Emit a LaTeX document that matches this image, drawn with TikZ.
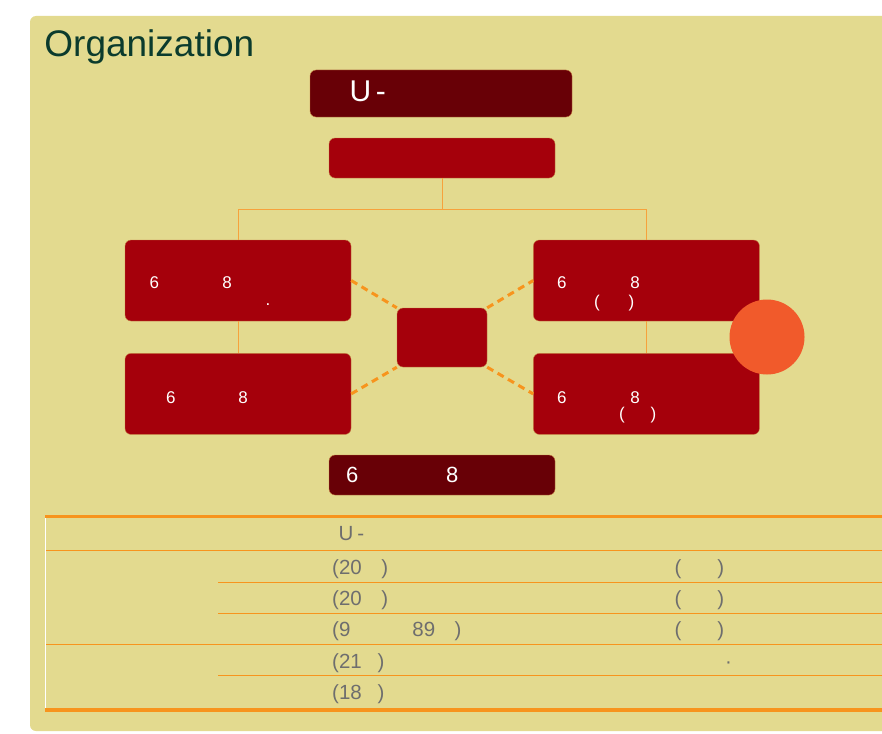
\documentclass[tikz,border=0pt]{standalone}
\usepackage{fontspec}
\setmainfont{Liberation Sans}
\usetikzlibrary{positioning}

\definecolor{panel}{RGB}{227,218,143}
\definecolor{darkunit}{RGB}{104,0,6}
\definecolor{redunit}{RGB}{165,0,11}
\definecolor{unitedge}{RGB}{196,120,64}
\definecolor{linkline}{RGB}{246,162,60}
\definecolor{hotline}{RGB}{247,148,29}
\definecolor{blob}{RGB}{241,90,43}
\definecolor{heading}{RGB}{11,59,45}
\definecolor{celltext}{RGB}{110,110,110}

\tikzset{
  unit/.style={rectangle, rounded corners=6pt, fill=redunit, draw=unitedge, line width=0.4pt,
    inner sep=0pt, minimum width=226pt, minimum height=81pt},
  lbl/.style={anchor=base west, inner sep=0pt, text=white, font=\fontsize{17}{20}\selectfont},
  cell/.style={anchor=base west, inner sep=0pt, text=celltext, font=\fontsize{20.5}{24}\selectfont},
  link/.style={draw=linkline, line width=1pt},
  hotlink/.style={draw=hotline, line width=3pt, dash pattern=on 7pt off 5pt},
  thinrule/.style={draw=hotline, line width=1.1pt},
  thickrule/.style={draw=hotline, line width=3.3pt}
}

\begin{document}
\begin{tikzpicture}[x=1pt, y=-1pt]
	\useasboundingbox (0,0) rectangle (882,733);
	\fill[panel, rounded corners=6pt] (30,16) rectangle (910,731);
	\node[anchor=base west, inner sep=0pt, text=heading, font=\fontsize{37}{44}\selectfont] (title) at (44.2,56.7) {Organization};
	
	% chart boxes
	\node[unit, fill=darkunit, minimum width=262pt, minimum height=47pt] (1) at (441,93.5) {};
	\node[unit, minimum height=40pt]         (2) at (442,158) {};
	\node[unit]                              (3) at (238,280.5) {};
	\node[unit, right=182pt of 3]            (4) {};
	\node[unit, below=32pt of 3]             (6) {};
	\node[unit, below=32pt of 4]             (7) {};
	\node[unit, minimum width=90pt, minimum height=59pt] (5) at (442,337.5) {};
	\node[unit, fill=darkunit, minimum height=40pt] (8) at (442,475) {};
	
	\coordinate (j) at (442,209);
	\draw[link] (2.south) -- (j) -| (3.north);
	\draw[link] (j) -| (4.north);
	\draw[link] (3.south) -- (6.north);
	\draw[link] (4.south) -- (7.north);
	
	\draw[hotlink] (3.east) -- (5.north west);
	\draw[hotlink] (6.east) -- (5.south west);
	\draw[hotlink] (5.north east) -- (4.west);
	\draw[hotlink] (5.south east) -- (7.west);
	
	\node[circle, fill=blob, minimum size=75pt, inner sep=0pt] (9) at (767,337) {};
	
	% box labels
	\node[lbl, font=\fontsize{30}{34}\selectfont] (1a) at (349.3,102) {U\hspace{4.8pt}-};
	\node[lbl] (3a) at (149.3,288) {6\hspace{63.5pt}8};
	\node[lbl] (3b) at (265.5,305) {.};
	\node[lbl] (4a) at (557,288) {6\hspace{63.8pt}8};
	\node[lbl] (4b) at (594,307.6) {(\hspace{28.8pt})};
	\node[lbl] (6a) at (166,403) {6\hspace{62.8pt}8};
	\node[lbl] (7a) at (557,403) {6\hspace{63.8pt}8};
	\node[lbl] (7b) at (619,419.6) {(\hspace{25.8pt})};
	\node[lbl, font=\fontsize{22}{26}\selectfont] (8a) at (345.8,482) {6\hspace{87.8pt}8};
	
	% table
	\draw[thickrule] (45,516.7) -- (890,516.7);
	\foreach \y/\x in {550.8/45, 582.3/218, 613.3/218, 644.3/45, 675.4/218}
		\draw[thinrule] (\x,\y) -- (890,\y);
	\draw[thickrule] (45,710) -- (890,710);
	\draw[white, line width=1.2pt] (45.6,518.4) -- (45.6,708.3);
	
	\node[cell] (r1) at (338.4,540) {U\hspace{4pt}-};
	\node[cell] (r2) at (332,574) {(20\hspace{19.5pt})};
	\node[cell] (r2b) at (674.3,574) {(\hspace{36pt})};
	\node[cell] (r3) at (332,605) {(20\hspace{19.5pt})};
	\node[cell] (r3b) at (674.3,605) {(\hspace{36pt})};
	\node[cell] (r4) at (332,636) {(9\hspace{62pt}89\hspace{19.4pt})};
	\node[cell] (r4b) at (674.3,636) {(\hspace{36pt})};
	\node[cell] (r5) at (332,668) {(21\hspace{15.9pt})};
	\node[cell] (r5b) at (725,668) {·};
	\node[cell] (r6) at (332,699) {(18\hspace{15.9pt})};
\end{tikzpicture}
\end{document}
